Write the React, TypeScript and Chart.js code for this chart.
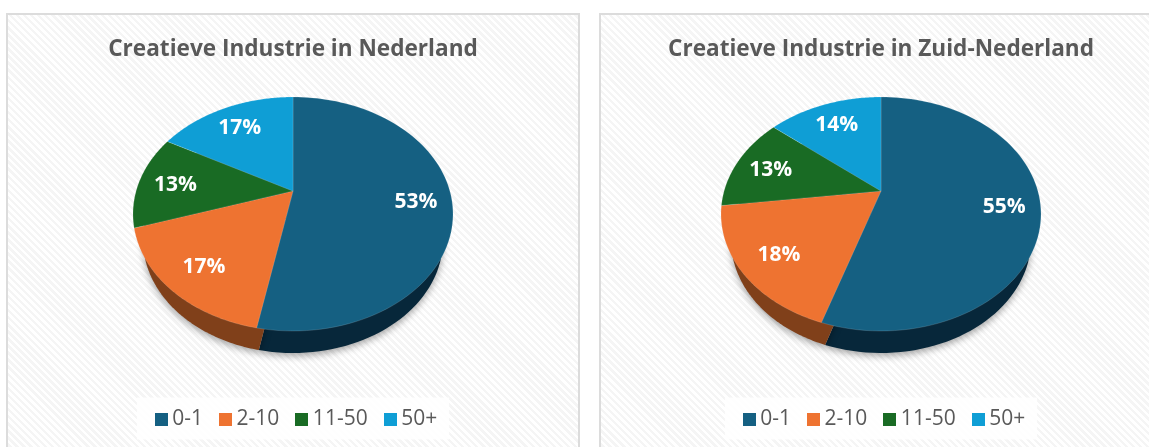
import React, { useEffect, useRef } from "react";
import { Chart, registerables } from "chart.js";

Chart.register(...registerables);

const categories = ["0-1", "2-10", "11-50", "50+"];
const nederland = [53, 17, 13, 17];
const zuidNederland = [55, 18, 13, 14];
const titleNederland = "Creatieve Industrie in Nederland";
const titleZuid = "Creatieve Industrie in Zuid-Nederland";
const faceColors = ["#156082", "#EE7331", "#196B24", "#0F9ED5"];
const wallColors = ["#07273A", "#80401A", "#0C3812", "#08506C"];

const FONT = "'Open Sans', sans-serif";
const PERSPECTIVE = 0.1966;
const WIDTH_RATIO = 1.341;
const LEGEND_SHIFT = 6;

function project(arc: any, u: number, v: number, wall = false) {
  const R = arc.outerRadius;
  const den = 1 - PERSPECTIVE * v;
  const kx = wall ? 0.9375 : 1;
  const ky = wall ? 0.966 : 1;
  const dy = wall ? R * 0.2222 : 0;
  return {
    x: arc.x + (kx * WIDTH_RATIO * R * u) / den,
    y: arc.y + dy + (ky * R * (v - PERSPECTIVE)) / den,
  };
}

function sector(ctx: CanvasRenderingContext2D, arc: any, wall: boolean) {
  const steps = 90;
  const apex = project(arc, 0, 0, wall);
  ctx.beginPath();
  ctx.moveTo(apex.x, apex.y);
  for (let i = 0; i <= steps; i++) {
    const a = arc.startAngle + ((arc.endAngle - arc.startAngle) * i) / steps;
    const p = project(arc, Math.cos(a), Math.sin(a), wall);
    ctx.lineTo(p.x, p.y);
  }
  ctx.closePath();
}

const tiltedPie = {
  id: "tiltedPie",
  afterLayout(chart: any) {
    chart.legend.left += LEGEND_SHIFT;
    chart.legend.right += LEGEND_SHIFT;
  },
  beforeDraw(chart: any) {
    const boxes = chart.legend?.legendHitBoxes;
    if (!boxes?.length) return;
    const { ctx } = chart;
    const last = boxes[boxes.length - 1];
    const mid = boxes[0].top + boxes[0].height / 2;
    ctx.save();
    ctx.fillStyle = "rgba(255,255,255,0.85)";
    ctx.fillRect(boxes[0].left - 24, mid - 22, last.left + last.width - boxes[0].left + 36, 42);
    ctx.restore();
  },
  beforeDatasetDraw(chart: any, args: any) {
    const { ctx } = chart;
    const arcs = args.meta.data;
    const values = chart.data.datasets[args.index].data;
    ctx.save();
    ctx.save();
    ctx.shadowColor = "rgba(0,0,0,0.35)";
    ctx.shadowBlur = 7;
    ctx.shadowOffsetY = 3;
    arcs.forEach((arc: any, i: number) => {
      sector(ctx, arc, true);
      ctx.fillStyle = wallColors[i];
      ctx.fill();
    });
    ctx.restore();
    arcs.forEach((arc: any, i: number) => {
      sector(ctx, arc, false);
      ctx.fillStyle = faceColors[i];
      ctx.fill();
      ctx.strokeStyle = "rgba(255,255,255,0.18)";
      ctx.lineWidth = 0.8;
      ctx.stroke();
    });
    ctx.fillStyle = "#ffffff";
    ctx.font = `700 21px ${FONT}`;
    ctx.textAlign = "center";
    ctx.textBaseline = "middle";
    arcs.forEach((arc: any, i: number) => {
      const a = (arc.startAngle + arc.endAngle) / 2;
      const p = project(arc, 0.77 * Math.cos(a), 0.77 * Math.sin(a));
      ctx.fillText(`${values[i]}%`, p.x + 1, p.y + 2.5);
    });
    ctx.restore();
    return false;
  },
};

function swatch(color: string) {
  const c = document.createElement("canvas");
  c.width = 13;
  c.height = 13;
  const g = c.getContext("2d")!;
  g.fillStyle = color;
  g.fillRect(0, 0, 13, 13);
  return c;
}

function PiePanel({ title, values, left, width }: { title: string; values: number[]; left: number; width: number }) {
  const ref = useRef<HTMLCanvasElement>(null);
  useEffect(() => {
    const chart = new Chart(ref.current!, {
      type: "pie",
      data: {
        labels: categories,
        datasets: [{ data: values, backgroundColor: faceColors, borderWidth: 0 }],
      },
      plugins: [tiltedPie as any],
      options: {
        animation: false,
        responsive: false,
        layout: { padding: 0 },
        plugins: {
          tooltip: { enabled: false },
          title: {
            display: true,
            text: title,
            color: "#595959",
            font: { family: FONT, size: 22.6, weight: "bold", lineHeight: 1.2 },
            padding: { top: 36.4, bottom: 33.5 },
          },
          legend: {
            display: true,
            position: "bottom",
            title: { display: true, text: " ", font: { size: 10, lineHeight: 1.2 }, padding: { top: 44, bottom: 0 } },
            labels: {
              color: "#595959",
              font: { family: FONT, size: 21 },
              padding: 22,
              usePointStyle: true,
              pointStyleWidth: 1,
              boxHeight: 13,
              generateLabels: () =>
                categories.map((text, i) => ({
                  text,
                  pointStyle: swatch(faceColors[i]),
                  fillStyle: faceColors[i],
                  strokeStyle: faceColors[i],
                  lineWidth: 0,
                  fontColor: "#595959",
                  index: i,
                })),
            },
          },
        },
      } as any,
    });
    return () => chart.destroy();
  }, []);
  return (
    <canvas
      ref={ref}
      width={width}
      height={440}
      style={{ position: "absolute", left, top: 0, width, height: 440, display: "block" }}
    />
  );
}

function Panel({ left, width }: { left: number; width: number }) {
  return (
    <div
      style={{
        position: "absolute",
        left,
        top: 13,
        width,
        height: 460,
        boxSizing: "border-box",
        border: "2px solid #dcdcdc",
        background: "repeating-linear-gradient(45deg, #ffffff 0px, #ffffff 2.5px, #f5f5f5 2.5px, #f5f5f5 5px)",
      }}
    />
  );
}

export default function App() {
  return (
    <div style={{ position: "fixed", inset: 0, width: 1149, height: 447, overflow: "hidden", background: "#fff" }}>
      <Panel left={6} width={574} />
      <Panel left={599} width={600} />
      <PiePanel title={titleNederland} values={nederland} left={6} width={574} />
      <PiePanel title={titleZuid} values={zuidNederland} left={599} width={564} />
    </div>
  );
}
